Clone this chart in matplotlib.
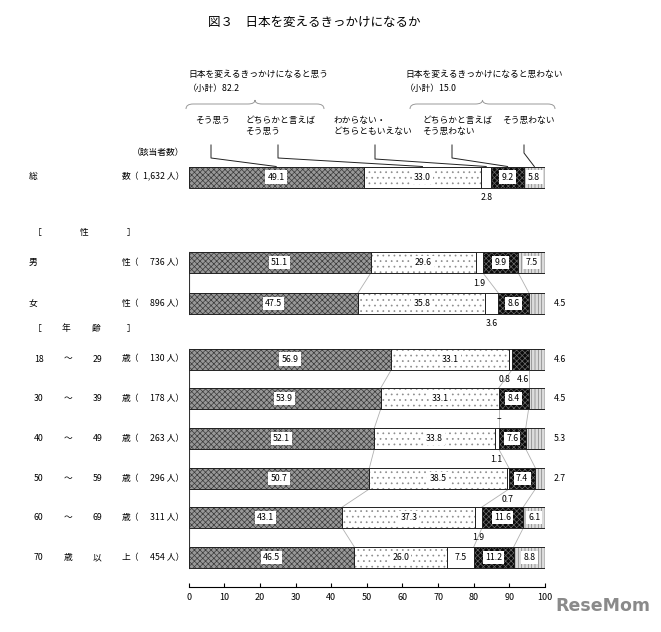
import numpy as np
import matplotlib.pyplot as plt
from matplotlib.path import Path
from matplotlib.patches import PathPatch

plt.rcParams['font.family'] = ['Noto Sans CJK JP', 'DejaVu Sans']
plt.rcParams['hatch.linewidth'] = 0.5

# 回答の区分
categories = ['そう思う', 'どちらかと言えば\nそう思う', 'わからない・\nどちらともいえない',
              'どちらかと言えば\nそう思わない', 'そう思わない']
# 行ラベル (区切りごと) と該当者数
row_heads = [['総', '数（'], ['男', '性（'], ['女', '性（'],
             ['18', '～', '29', '歳（'], ['30', '～', '39', '歳（'],
             ['40', '～', '49', '歳（'], ['50', '～', '59', '歳（'],
             ['60', '～', '69', '歳（'], ['70', '歳', '以', '上（']]
counts = ['1,632', '736', '896', '130', '178', '263', '296', '311', '454']

sou_omou = [49.1, 51.1, 47.5, 56.9, 53.9, 52.1, 50.7, 43.1, 46.5]
dochiraka_omou = [33.0, 29.6, 35.8, 33.1, 33.1, 33.8, 38.5, 37.3, 26.0]
wakaranai = [2.8, 1.9, 3.6, 0.8, 0.0, 1.1, 0.7, 1.9, 7.5]
dochiraka_omowanai = [9.2, 9.9, 8.6, 4.6, 8.4, 7.6, 7.4, 11.6, 11.2]
omowanai = [5.8, 7.5, 4.5, 4.6, 4.5, 5.3, 2.7, 6.1, 8.8]
subtotal_omou = 82.2
subtotal_omowanai = 15.0

vals = np.array([sou_omou, dochiraka_omou, wakaranai, dochiraka_omowanai, omowanai]).T
lefts = np.cumsum(vals, axis=1) - vals

# 配置 (縦位置はピクセル基準)
row_y = [177, 262.5, 303.5, 359, 398.5, 438.5, 478.5, 517.5, 557.5]
bar_h = 21
groups = [[1, 2], [3, 4, 5, 6, 7, 8]]

faces = ['#989898', 'white', 'white', '#0a0a0a', '#dcdcdc']
hcols = ['#3a3a3a', '#8c8c8c', 'white', '#6a6a6a', '#808080']
hatches = ['xxxxxx', '...', '', 'xxxxxx', '|||||']

W, H = 661, 632
x0px, x100px = 188.7, 545.0
fig = plt.figure(figsize=(W / 100, H / 100), dpi=100)
ax = fig.add_axes([x0px / W, 0, (x100px - x0px) / W, 1])
ax.set_xlim(0, 100)
ax.set_ylim(H, 0)
ax.axis('off')


def px(x):
    return (x - x0px) / (x100px - x0px) * 100


fs = 6.3

# 区切り内の縦線とつなぎ線
for g in groups:
    top = row_y[g[0]] - bar_h / 2
    bot = row_y[g[-1]] + bar_h / 2
    ax.plot([0, 0], [top, bot], color='#333', lw=0.8, zorder=1)
    ax.plot([100, 100], [top, bot], color='#bbb', lw=0.6, zorder=1)
    for a, b in zip(g[:-1], g[1:]):
        for k in (1, 3, 4):
            ax.plot([lefts[a, k], lefts[b, k]],
                    [row_y[a] + bar_h / 2, row_y[b] - bar_h / 2],
                    color='#b0b0b0', lw=0.6, zorder=1)

# 帯グラフ
for j in range(5):
    ax.barh(row_y, vals[:, j], left=lefts[:, j], height=bar_h, color=faces[j],
            edgecolor=hcols[j], hatch=hatches[j], linewidth=0, zorder=2)
    ax.barh(row_y, vals[:, j], left=lefts[:, j], height=bar_h, fill=False,
            edgecolor='#222', linewidth=0.7, zorder=3)

# 数値ラベル
for i in range(len(row_y)):
    below = []
    for j in range(5):
        v = vals[i, j]
        txt = '–' if v == 0 else f'{v:.1f}'
        cx = lefts[i, j] + v / 2
        if j == 4 and v < 5.5:
            ax.text(px(560), row_y[i], txt, ha='center', va='center', fontsize=fs)
        elif v < 5:
            below.append([cx, txt])
        else:
            ax.text(cx, row_y[i], txt, ha='center', va='center', fontsize=fs, zorder=4,
                    bbox=dict(boxstyle='square,pad=0.25', fc='white', ec='none'))
    if len(below) == 2 and below[1][0] - below[0][0] < 4.5:
        below[0][0] -= 1.6
        below[1][0] += 0.8
    for cx, txt in below:
        ax.text(cx, row_y[i] + 20.5, txt, ha='center', va='center', fontsize=fs)

# 行ラベル
for i, heads in enumerate(row_heads):
    xs = [29, 122] if len(heads) == 2 else [34, 64, 93, 122]
    for x, t in zip(xs, heads):
        ax.text(px(x), row_y[i], t, ha='left', va='center', fontsize=fs, clip_on=False)
    ax.text(px(184), row_y[i], f'{counts[i]} 人）', ha='right', va='center',
            fontsize=fs, clip_on=False)
ax.text(px(184), 152, '（該当者数）', ha='right', va='center', fontsize=fs)
for x, t in zip([33, 80, 127], ['［', '性', '］']):
    ax.text(px(x), 233, t, ha='left', va='center', fontsize=fs)
for x, t in zip([33, 62, 92, 127], ['［', '年', '齢', '］']):
    ax.text(px(x), 328, t, ha='left', va='center', fontsize=fs)

# 見出しと引き出し線
head_x = [195, 245, 333, 422, 502]
lead_x = [211, 278, 375, 452, 524]
bend_y = [158, 158, 159, 158, 153]
for j in range(5):
    ax.text(px(head_x[j]), 116, categories[j], ha='left', va='top', fontsize=fs,
            linespacing=1.3)
    tx = lefts[0, j] + vals[0, j] / 2
    ax.plot([px(lead_x[j]), px(lead_x[j]), tx], [145, bend_y[j], row_y[0] - bar_h / 2],
            color='#222', lw=0.7, zorder=4)


def brace(xa, xb, y, color='#999'):
    xa, xb = px(xa), px(xb)
    xm = (xa + xb) / 2
    r = 2.0
    verts = [(xa, y + 5), (xa, y), (xa + r, y), (xm - r, y), (xm, y), (xm, y - 4),
             (xm, y), (xm + r, y), (xb - r, y), (xb, y), (xb, y + 5)]
    codes = [Path.MOVETO, Path.CURVE3, Path.CURVE3, Path.LINETO, Path.CURVE3, Path.CURVE3,
             Path.CURVE3, Path.CURVE3, Path.LINETO, Path.CURVE3, Path.CURVE3]
    ax.add_patch(PathPatch(Path(verts, codes), fc='none', ec=color, lw=0.7, clip_on=False))


brace(186, 324, 104)
brace(410, 555, 104)
ax.text(px(188), 75, '日本を変えるきっかけになると思う', ha='left', va='center', fontsize=fs)
ax.text(px(188), 88, f'（小計）{subtotal_omou}', ha='left', va='center', fontsize=fs)
ax.text(px(405), 75, '日本を変えるきっかけになると思わない', ha='left', va='center', fontsize=fs)
ax.text(px(405), 88, f'（小計）{subtotal_omowanai}', ha='left', va='center', fontsize=fs)

fig.text(208 / W, 1 - 22 / H, '図３　日本を変えるきっかけになるか', ha='left', va='center',
         fontsize=9)

# 目盛り軸
axx = fig.add_axes([x0px / W, 1 - 587.3 / H, (x100px - x0px) / W, 0.01])
axx.set_xlim(0, 100)
axx.set_xticks(np.arange(0, 101, 10))
axx.set_yticks([])
for s in ['top', 'left', 'right']:
    axx.spines[s].set_visible(False)
axx.spines['bottom'].set_linewidth(0.8)
axx.patch.set_alpha(0)
axx.tick_params(axis='x', direction='in', length=3, width=0.8, labelsize=6.5, pad=4)

fig.text(650 / W, 1 - 606 / H, 'ReseMom', ha='right', va='center', fontsize=12.5,
         fontweight='bold', color='#8a8a8a', family='DejaVu Sans')

fig.savefig('out.png', dpi=100, facecolor='white')
